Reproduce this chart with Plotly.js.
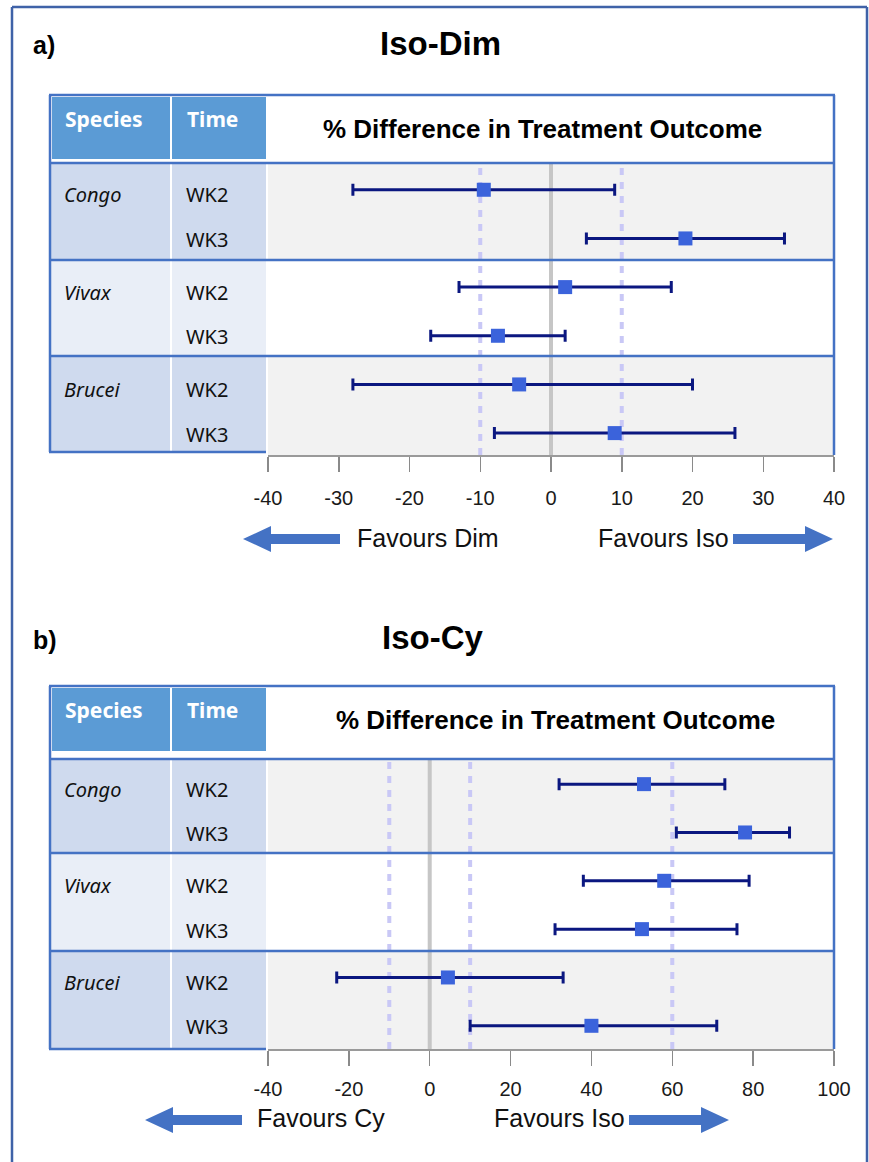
<!DOCTYPE html>
<html>
<head>
<meta charset="utf-8">
<script src="https://cdn.plot.ly/plotly-3.0.1.min.js"></script>
<style>html,body{margin:0;padding:0;background:#fff;}#chart{width:869px;height:1162px;}</style>
</head>
<body>
<div id="chart"></div>
<script>
// ---------- DATA ----------
const speciesNames = ['Congo', 'Vivax', 'Brucei'];
const timePoints = ['WK2', 'WK3'];
const rowSpecies = ['Congo', 'Congo', 'Vivax', 'Vivax', 'Brucei', 'Brucei'];
const rowTimes = ['WK2', 'WK3', 'WK2', 'WK3', 'WK2', 'WK3'];

const isoDimEst  = [-9.5, 19, 2, -7.5, -4.5, 9];
const isoDimLow  = [-28, 5, -13, -17, -28, -8];
const isoDimHigh = [9, 33, 17, 2, 20, 26];

const isoCyEst  = [53, 78, 58, 52.5, 4.5, 40];
const isoCyLow  = [32, 61, 38, 31, -23, 10];
const isoCyHigh = [73, 89, 79, 76, 33, 71];

const isoDimTicks = [-40, -30, -20, -10, 0, 10, 20, 30, 40];
const isoCyTicks  = [-40, -20, 0, 20, 40, 60, 80, 100];
const isoDimRange = [-40, 40];
const isoCyRange  = [-40, 100];

const isoDimDashed = [-10, 10];
const isoCyDashed  = [-10, 10, 60];
const zeroLine = [0];

const panelLabels = ['a)', 'b)'];
const panelTitles = ['Iso-Dim', 'Iso-Cy'];
const headerTitle = '% Difference in Treatment Outcome';
const headerCols = ['Species', 'Time'];
const favourLeft = ['Favours Dim', 'Favours Cy'];
const favourRight = ['Favours Iso', 'Favours Iso'];

// ---------- LAYOUT HELPERS ----------
const W = 869, H = 1162;
const X = p => p / W;
const Y = p => 1 - p / H;
const BLUE = '#4472C4';
const TXT = 'Noto Sans, Open Sans, DejaVu Sans, sans-serif';
const ARIAL = 'Liberation Sans, Arial, sans-serif';
const NARROW = 'Liberation Sans Narrow, Liberation Sans, Arial, sans-serif';

const shapes = [];
const annotations = [];
const traces = [];
const layout = {
  width: W, height: H,
  margin: {l: 0, r: 0, t: 0, b: 0},
  paper_bgcolor: '#ffffff',
  plot_bgcolor: 'rgba(0,0,0,0)',
  showlegend: false
};

function rect(x0, y0, x1, y1, fill) {
  shapes.push({type: 'rect', xref: 'paper', yref: 'paper', layer: 'below',
    x0: X(x0), x1: X(x1), y0: Y(y1), y1: Y(y0), fillcolor: fill, line: {width: 0}});
}
function hline(x0, x1, y, color, w) {
  shapes.push({type: 'line', xref: 'paper', yref: 'paper', layer: 'above',
    x0: X(x0), x1: X(x1), y0: Y(y), y1: Y(y), line: {color: color, width: w}});
}
function vline(x, y0, y1, color, w) {
  shapes.push({type: 'line', xref: 'paper', yref: 'paper', layer: 'above',
    x0: X(x), x1: X(x), y0: Y(y0), y1: Y(y1), line: {color: color, width: w}});
}
function text(x, y, t, size, opts) {
  annotations.push(Object.assign({xref: 'paper', yref: 'paper', x: X(x), y: Y(y), text: t,
    showarrow: false, xanchor: 'center', yanchor: 'middle',
    font: {size: size, color: '#000', family: ARIAL}}, opts || {}));
}
function arrow(tipX, baseX, y, dir) {
  const hl = 28 * dir, hh = 13, sh = 5;
  const pts = [
    [tipX, y], [tipX - hl, y - hh], [tipX - hl, y - sh], [baseX, y - sh],
    [baseX, y + sh], [tipX - hl, y + sh], [tipX - hl, y + hh]
  ];
  const path = 'M ' + pts.map(p => X(p[0]).toFixed(5) + ',' + Y(p[1]).toFixed(5)).join(' L ') + ' Z';
  shapes.push({type: 'path', xref: 'paper', yref: 'paper', path: path, fillcolor: BLUE, line: {width: 0}, layer: 'above'});
}

function panel(i, g) {
  const xa = i === 0 ? 'x' : 'x2', ya = i === 0 ? 'y' : 'y2';
  const xKey = i === 0 ? 'xaxis' : 'xaxis2', yKey = i === 0 ? 'yaxis' : 'yaxis2';
  const L = 50, SR = 170, TL = 172, TR = 266, PL = 268, R = 834;
  const groups = g.groups;
  rect(L, g.top, R, g.hdrLine, '#ffffff');
  rect(L + 2, g.top + 2, SR, g.hdrBot, '#5B9BD5');
  rect(TL, g.top + 2, TR, g.hdrBot, '#5B9BD5');
  for (let k = 0; k < 3; k++) {
    const y0 = groups[k], y1 = groups[k + 1];
    const cell = k === 1 ? '#E9EEF7' : '#CFDAEE';
    const band = k === 1 ? '#FFFFFF' : '#F2F2F2';
    rect(L, y0, SR, y1, cell);
    rect(TL, y0, TR, y1, cell);
    rect(PL, y0, R, k === 2 ? g.axisY : y1, band);
  }
  g.dashed.forEach(v => shapes.push({type: 'line', xref: xa, yref: 'paper', layer: 'below',
    x0: v, x1: v, y0: Y(g.axisY), y1: Y(g.hdrLine), line: {color: '#C9C8F6', width: 4, dash: '7px,7px'}}));
  zeroLine.forEach(v => shapes.push({type: 'line', xref: xa, yref: 'paper', layer: 'below',
    x0: v, x1: v, y0: Y(g.axisY), y1: Y(g.hdrLine), line: {color: '#C6C6C6', width: 4}}));
  hline(L - 1, R + 1, g.top, BLUE, 2.5);
  hline(L - 1, R + 1, g.hdrLine, BLUE, 2.5);
  hline(L - 1, R + 1, groups[1], BLUE, 2.5);
  hline(L - 1, R + 1, groups[2], BLUE, 2.5);
  hline(L - 1, TR, groups[3], BLUE, 2.5);
  vline(L, g.top, groups[3], BLUE, 2.5);
  vline(R, g.top, g.axisY, BLUE, 2.5);
  text(31, g.labelY, '<b>' + panelLabels[i] + '</b>', 25, {xanchor: 'left', font: {size: 25, family: ARIAL, color: '#000'}});
  text(g.titleX, g.titleY, '<b>' + panelTitles[i] + '</b>', 33);
  text(g.hdrTitleX, g.hdrTitleY, '<b>' + headerTitle + '</b>', 26);
  text(63, g.hdrTextY, '<b>' + headerCols[0] + '</b>', 21, {xanchor: 'left', font: {size: 21, family: TXT, color: '#ffffff'}});
  text(185, g.hdrTextY, '<b>' + headerCols[1] + '</b>', 21, {xanchor: 'left', font: {size: 21, family: TXT, color: '#ffffff'}});
  rowTimes.forEach((t, r) => {
    annotations.push({xref: 'paper', yref: ya, x: X(184), y: r, yshift: (r % 2 === 0 ? -5 : -1), text: t, showarrow: false,
      xanchor: 'left', yanchor: 'middle', font: {size: 20, family: TXT, color: '#111'}});
    if (r % 2 === 0) {
      annotations.push({xref: 'paper', yref: ya, x: X(62), y: r, yshift: -5, text: '<i>' + rowSpecies[r] + '</i>', showarrow: false,
        xanchor: 'left', yanchor: 'middle', font: {size: 20, family: TXT, color: '#111'}});
    }
  });
  text(g.favL, g.favY, favourLeft[i], 25, {xanchor: 'left', font: {size: 25, family: ARIAL, color: '#111'}});
  text(g.favR, g.favY, favourRight[i], 25, {xanchor: 'right', font: {size: 25, family: ARIAL, color: '#111'}});
  arrow(g.arrL[0], g.arrL[1], g.arrY, -1);
  arrow(g.arrR[1], g.arrR[0], g.arrY, 1);

  traces.push({
    type: 'scatter', mode: 'markers', xaxis: xa, yaxis: ya,
    x: g.est, y: g.est.map((_, r) => r),
    error_x: {type: 'data', symmetric: false,
      array: g.est.map((v, r) => g.high[r] - v),
      arrayminus: g.est.map((v, r) => v - g.low[r]),
      color: '#0B1780', thickness: 3, width: 6},
    marker: {symbol: 'square', size: 14, color: '#3B63DB'},
    hoverinfo: 'skip'
  });
  layout[xKey] = {
    domain: [X(PL), X(R)], range: g.range, anchor: ya,
    showline: true, linecolor: '#9A9A9A', linewidth: 1.5,
    ticks: 'outside', ticklen: 15, tickcolor: '#8A8A8A', tickwidth: 1.5,
    tickvals: g.ticks, ticktext: g.ticks.map(String),
    tickfont: {size: 20, family: NARROW, color: '#1a1a1a'},
    ticklabelstandoff: g.standoff,
    showgrid: false, zeroline: false, fixedrange: true
  };
  layout[yKey] = {
    domain: [Y(g.axisY), Y(g.hdrLine)], range: g.yrange, anchor: xa,
    visible: false, showgrid: false, zeroline: false, fixedrange: true
  };
}

panel(0, {
  top: 95, hdrBot: 159, hdrLine: 163, groups: [163, 260, 356, 452], axisY: 455,
  yrange: [5.45, -0.55], range: isoDimRange, ticks: isoDimTicks,
  est: isoDimEst, low: isoDimLow, high: isoDimHigh, dashed: isoDimDashed, standoff: 9,
  labelY: 45, titleX: 440, titleY: 43, hdrTitleX: 542, hdrTitleY: 129, hdrTextY: 119,
  favL: 355, favR: 731, favY: 538, arrL: [243, 340], arrR: [733, 833], arrY: 539
});
panel(1, {
  top: 686, hdrBot: 751, hdrLine: 759, groups: [759, 853, 951, 1049], axisY: 1049,
  yrange: [5.48, -0.52], range: isoCyRange, ticks: isoCyTicks,
  est: isoCyEst, low: isoCyLow, high: isoCyHigh, dashed: isoCyDashed, standoff: 6,
  labelY: 640, titleX: 433, titleY: 637, hdrTitleX: 555, hdrTitleY: 720, hdrTextY: 710,
  favL: 255, favR: 627, favY: 1118, arrL: [145, 242], arrR: [629, 729], arrY: 1120
});

hline(12, 867, 7, '#3F62A8', 2.5);
vline(12, 7, 1162, '#3F62A8', 2.5);
vline(867, 7, 1162, '#3F62A8', 2.5);

layout.shapes = shapes;
layout.annotations = annotations;
Plotly.newPlot('chart', traces, layout, {staticPlot: true, displayModeBar: false});
</script>
</body>
</html>
